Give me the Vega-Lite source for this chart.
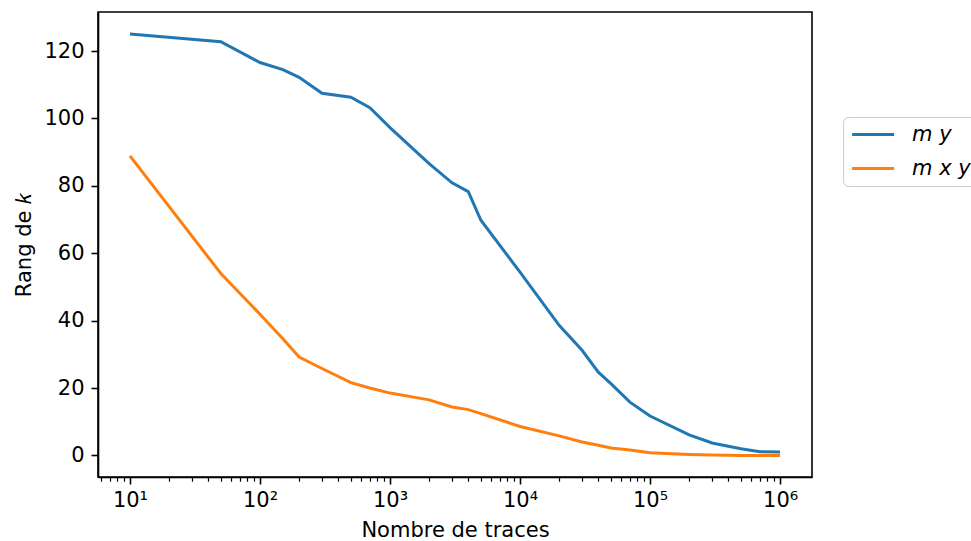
{
  "$schema": "https://vega.github.io/schema/vega-lite/v6.json",
  "autosize": {"type": "none"},
  "padding": {"left": 98, "top": 12, "right": 159, "bottom": 64},
  "width": 714,
  "height": 465,
  "background": "white",
  "config": {
    "font": "DejaVu Sans",
    "view": {"stroke": "black", "strokeWidth": 1.6},
    "axis": {
      "domainColor": "black", "domainWidth": 1.6, "tickColor": "black", "tickWidth": 1.6,
      "labelColor": "black", "titleColor": "black", "labelFontSize": 21, "titleFontSize": 21,
      "titleFontWeight": "normal", "grid": false, "labelFont": "DejaVu Sans", "titleFont": "DejaVu Sans"
    }
  },
  "datasets": {
    "d": [
      {"n": 10, "k": 125.1, "s": "m y"},
      {"n": 50, "k": 122.8, "s": "m y"},
      {"n": 100, "k": 116.6, "s": "m y"},
      {"n": 150, "k": 114.5, "s": "m y"},
      {"n": 200, "k": 112.2, "s": "m y"},
      {"n": 300, "k": 107.5, "s": "m y"},
      {"n": 500, "k": 106.3, "s": "m y"},
      {"n": 700, "k": 103.2, "s": "m y"},
      {"n": 1000, "k": 97.3, "s": "m y"},
      {"n": 2000, "k": 86.6, "s": "m y"},
      {"n": 3000, "k": 80.9, "s": "m y"},
      {"n": 4000, "k": 78.3, "s": "m y"},
      {"n": 5000, "k": 69.8, "s": "m y"},
      {"n": 10000, "k": 54.4, "s": "m y"},
      {"n": 20000, "k": 38.6, "s": "m y"},
      {"n": 30000, "k": 31.2, "s": "m y"},
      {"n": 40000, "k": 24.7, "s": "m y"},
      {"n": 50000, "k": 21.3, "s": "m y"},
      {"n": 70000, "k": 15.8, "s": "m y"},
      {"n": 100000, "k": 11.7, "s": "m y"},
      {"n": 200000, "k": 6.1, "s": "m y"},
      {"n": 300000, "k": 3.7, "s": "m y"},
      {"n": 500000, "k": 2.0, "s": "m y"},
      {"n": 700000, "k": 1.1, "s": "m y"},
      {"n": 1000000, "k": 1.0, "s": "m y"},
      {"n": 10, "k": 88.9, "s": "m x y"},
      {"n": 50, "k": 54.0, "s": "m x y"},
      {"n": 100, "k": 41.9, "s": "m x y"},
      {"n": 150, "k": 34.6, "s": "m x y"},
      {"n": 200, "k": 29.2, "s": "m x y"},
      {"n": 300, "k": 25.8, "s": "m x y"},
      {"n": 500, "k": 21.6, "s": "m x y"},
      {"n": 700, "k": 20.0, "s": "m x y"},
      {"n": 1000, "k": 18.5, "s": "m x y"},
      {"n": 2000, "k": 16.5, "s": "m x y"},
      {"n": 3000, "k": 14.4, "s": "m x y"},
      {"n": 4000, "k": 13.6, "s": "m x y"},
      {"n": 5000, "k": 12.4, "s": "m x y"},
      {"n": 10000, "k": 8.6, "s": "m x y"},
      {"n": 20000, "k": 5.8, "s": "m x y"},
      {"n": 30000, "k": 4.0, "s": "m x y"},
      {"n": 40000, "k": 3.0, "s": "m x y"},
      {"n": 50000, "k": 2.2, "s": "m x y"},
      {"n": 70000, "k": 1.6, "s": "m x y"},
      {"n": 100000, "k": 0.8, "s": "m x y"},
      {"n": 200000, "k": 0.3, "s": "m x y"},
      {"n": 300000, "k": 0.1, "s": "m x y"},
      {"n": 500000, "k": 0.0, "s": "m x y"},
      {"n": 1000000, "k": 0.0, "s": "m x y"}
    ]
  },
  "data": {"name": "d"},
  "resolve": {"axis": {"x": "independent"}},
  "layer": [
    {
      "mark": {"type": "line", "strokeWidth": 3, "clip": true},
      "encoding": {
        "x": {
          "field": "n", "type": "quantitative",
          "scale": {"type": "log", "domain": [5.68, 1760000], "nice": false},
          "axis": {
            "orient": "bottom", "values": [10, 100, 1000, 10000, 100000, 1000000],
            "tickSize": 7, "labelPadding": 5, "titlePadding": 9,
            "title": "Nombre de traces",
            "labelExpr": "'10' + ['⁰','¹','²','³','⁴','⁵','⁶'][round(log(datum.value)/LN10)]"
          }
        },
        "y": {
          "field": "k", "type": "quantitative",
          "scale": {"domain": [-6.4, 131.6], "nice": false, "zero": false},
          "axis": {
            "values": [0, 20, 40, 60, 80, 100, 120], "tickSize": 7, "labelPadding": 7,
            "title": "Rang de 𝑘", "titlePadding": 9
          }
        },
        "color": {
          "field": "s", "type": "nominal",
          "scale": {"domain": ["m y", "m x y"], "range": ["#1f77b4", "#ff7f0e"]},
          "legend": {
            "title": null, "orient": "none", "legendX": 745, "legendY": 105,
            "symbolType": "M-1.2,0H4.8", "symbolSize": 196, "symbolStrokeWidth": 3,
            "labelFontSize": 21, "labelFontStyle": "italic", "labelOffset": 41,
            "fillColor": "white", "strokeColor": "#cccccc", "cornerRadius": 5, "padding": 7,
            "rowPadding": 12, "labelColor": "black"
          }
        }
      }
    },
    {
      "mark": {"type": "line", "opacity": 0},
      "encoding": {
        "x": {
          "field": "n", "type": "quantitative",
          "axis": {
            "orient": "bottom", "labels": false, "title": null, "domain": false, "tickSize": 4.2, "tickWidth": 1.2,
            "values": [6,7,8,9,20,30,40,50,60,70,80,90,200,300,400,500,600,700,800,900,2000,3000,4000,5000,6000,7000,8000,9000,20000,30000,40000,50000,60000,70000,80000,90000,200000,300000,400000,500000,600000,700000,800000,900000]
          }
        },
        "y": {"field": "k", "type": "quantitative"},
        "detail": {"field": "s"}
      }
    }
  ]
}
